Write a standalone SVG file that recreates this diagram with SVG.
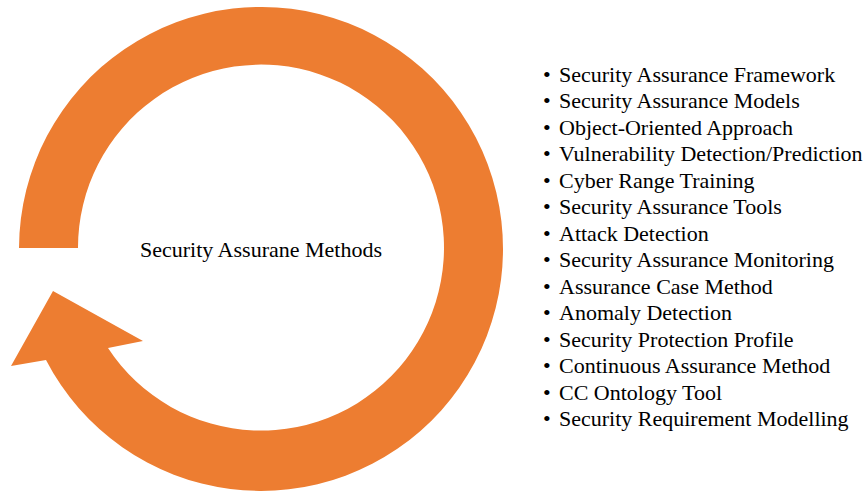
<svg xmlns="http://www.w3.org/2000/svg" width="866" height="491" viewBox="0 0 866 491">
<style>
.t{font-family:"Liberation Serif","Times New Roman",serif;font-size:22px;fill:#000}
.arrow{fill:#ED7D31}
</style>
<rect width="866" height="491" fill="#fff"/>
<g id="cycle-arrow">
<path class="arrow" d="M 19 248 A 242 242 0 1 1 46 360 L 11 366 L 53 291 L 143 341 L 108 348 A 183 183 0 1 0 78 248 Z"/>
</g>
<g id="center-label">
<text class="t" x="261" y="257" text-anchor="middle">Security Assurane Methods</text>
</g>
<g id="method-list">
<text class="t" y="81.7"><tspan x="543">•</tspan><tspan x="559">Security Assurance Framework</tspan></text>
<text class="t" y="108.2"><tspan x="543">•</tspan><tspan x="559">Security Assurance Models</tspan></text>
<text class="t" y="134.7"><tspan x="543">•</tspan><tspan x="559">Object-Oriented Approach</tspan></text>
<text class="t" y="161.2"><tspan x="543">•</tspan><tspan x="559">Vulnerability Detection/Prediction</tspan></text>
<text class="t" y="187.7"><tspan x="543">•</tspan><tspan x="559">Cyber Range Training</tspan></text>
<text class="t" y="214.2"><tspan x="543">•</tspan><tspan x="559">Security Assurance Tools</tspan></text>
<text class="t" y="240.7"><tspan x="543">•</tspan><tspan x="559">Attack Detection</tspan></text>
<text class="t" y="267.2"><tspan x="543">•</tspan><tspan x="559">Security Assurance Monitoring</tspan></text>
<text class="t" y="293.7"><tspan x="543">•</tspan><tspan x="559">Assurance Case Method</tspan></text>
<text class="t" y="320.2"><tspan x="543">•</tspan><tspan x="559">Anomaly Detection</tspan></text>
<text class="t" y="346.7"><tspan x="543">•</tspan><tspan x="559">Security Protection Profile</tspan></text>
<text class="t" y="373.2"><tspan x="543">•</tspan><tspan x="559">Continuous Assurance Method</tspan></text>
<text class="t" y="399.7"><tspan x="543">•</tspan><tspan x="559">CC Ontology Tool</tspan></text>
<text class="t" y="426.2"><tspan x="543">•</tspan><tspan x="559">Security Requirement Modelling</tspan></text>
</g>
</svg>
